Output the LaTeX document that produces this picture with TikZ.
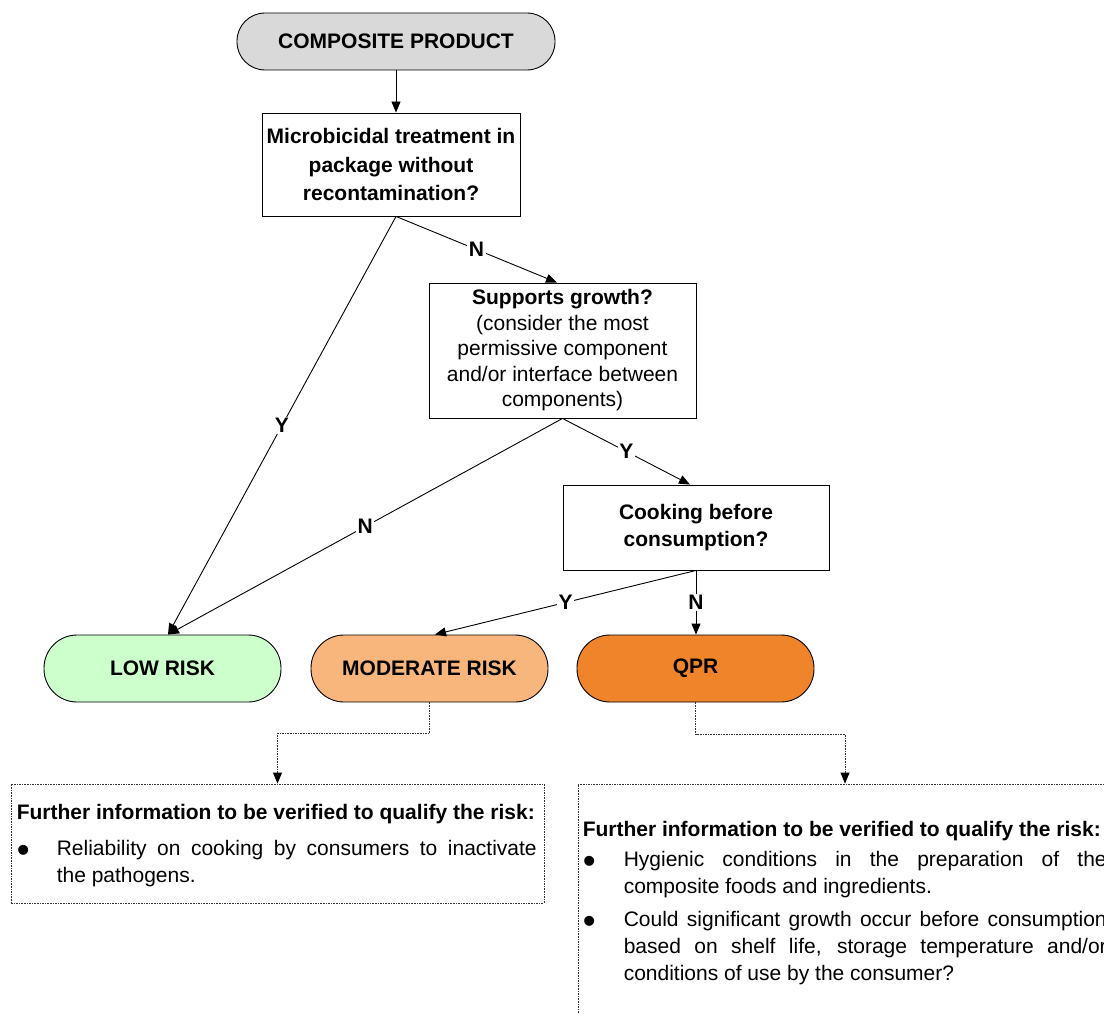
\documentclass[tikz,border=0pt]{standalone}
\usepackage{fontspec}
\setmainfont{Liberation Sans}
\usetikzlibrary{arrows.meta,calc}

\definecolor{topgray}{HTML}{D9D9D9}
\definecolor{lowgreen}{HTML}{CCFFCC}
\definecolor{modorange}{HTML}{F9B67C}
\definecolor{qprorange}{HTML}{F0842A}

\newcommand{\bigbul}{\raisebox{-6.5pt}{\scalebox{1.75}{\textbullet}}}

\tikzset{
  termbox/.style={draw, line width=0.9pt, minimum width=237pt, minimum height=67pt,
    rounded corners=33pt, inner sep=0pt, font=\fontsize{21}{25}\selectfont\bfseries},
  qbox/.style={draw, line width=0.9pt, align=center, inner sep=0pt},
  conn/.style={line width=0.9pt, -{Triangle[length=11pt,width=9pt]}},
  lbl/.style={fill=white, inner sep=1.5pt, font=\fontsize{21}{25}\selectfont\bfseries},
  dotline/.style={line width=0.9pt, draw=black!80, dash pattern=on 1.6pt off 1pt},
  dotconn/.style={dotline, -{Triangle[length=11pt,width=9pt,color=black]}},
  infobox/.style={dotline, draw, inner sep=0pt, fill=none},
  infotext/.style={inner sep=0pt, anchor=base west, font=\fontsize{21}{27}\selectfont},
}

\begin{document}
\begin{tikzpicture}[x=1pt,y=-1pt]
\useasboundingbox (0,0) rectangle (1104,1014);
\clip (0,0) rectangle (1104,1014);

% nodes
\node[termbox, fill=topgray, minimum width=318pt, minimum height=57pt, rounded corners=28pt]
  (top) at (396,41.5) {COMPOSITE PRODUCT};
\node[qbox, minimum width=258pt, minimum height=103pt, font=\fontsize{21}{28.5}\selectfont\bfseries]
  (box1) at (391,164.5) {Microbicidal treatment in\\package without\\recontamination?};
\node[qbox, minimum width=267pt, minimum height=135pt, font=\fontsize{21}{25.5}\selectfont]
  (supp) at (562.5,350.5) {\textbf{Supports growth?}\\(consider the most\\permissive component\\and/or interface between\\components)};
\node[qbox, minimum width=266pt, minimum height=85pt, font=\fontsize{21}{27}\selectfont\bfseries]
  (cook) at (696,527.5) {Cooking before\\consumption?};

\node[termbox, fill=lowgreen] (low) at (162.5,668.5) {LOW RISK};
\node[termbox, fill=modorange] (mod) at (429.5,668.5) {MODERATE RISK};
\node[termbox, fill=qprorange] (qpr) at (695.5,668.5) {QPR};

\node[infobox, minimum width=533pt, minimum height=119pt] (leftbox) at (277.5,843.5) {};
\node[infobox, minimum width=534pt, minimum height=262pt] (rightbox) at (845,915) {};

% connectors
\draw[conn] (top.south) -- (top.south |- box1.north);
\coordinate (b1s) at ($(box1.south)+(5,0)$);
\draw[conn] (b1s) -- node[lbl] {Y} ($(low.north)+(5.5,0)$);
\draw[conn] (b1s) -- node[lbl] {N} ($(supp.north)+(-5.5,0)$);
\draw[conn] (supp.south) -- node[lbl] {N} ($(low.north)+(5.5,0)$);
\draw[conn] (supp.south) -- node[lbl] {Y} ($(cook.north)+(-6,0)$);
\draw[conn] (cook.south) -- node[lbl] {Y} ($(mod.north)+(5.5,0)$);
\draw[conn] (cook.south) -- node[lbl] {N} (cook.south |- qpr.north);

\draw[dotconn] (mod.south) -- ++(0,31) -| (leftbox.north);
\draw[dotconn] (qpr.south) -- ++(0,32) -| (rightbox.north);

% info texts
\node[infotext] (lefttext) at ($(leftbox.north west)+(6,36)$) {\parbox[t]{520pt}{%
  \tolerance=10000\noindent
  \textbf{Further information to be verified to qualify the risk:}\par
  \vspace{9pt}
  \hangindent=40pt\hangafter=1\noindent\makebox[40pt][l]{\bigbul}Reliability on cooking by consumers to inactivate\linebreak the pathogens.\par}};

\node[infotext] (righttext) at ($(rightbox.north west)+(5,53)$) {\parbox[t]{524pt}{%
  \tolerance=10000\noindent
  \textbf{Further information to be verified to qualify the risk:}\par
  \vspace{3pt}
  \hangindent=41pt\hangafter=1\noindent\makebox[41pt][l]{\bigbul}Hygienic conditions in the preparation of the\linebreak composite foods and ingredients.\par
  \vspace{6pt}
  \hangindent=41pt\hangafter=1\noindent\makebox[41pt][l]{\bigbul}Could significant growth occur before consumption\linebreak based on shelf life, storage temperature and/or\linebreak conditions of use by the consumer?\par}};
\end{tikzpicture}
\end{document}
